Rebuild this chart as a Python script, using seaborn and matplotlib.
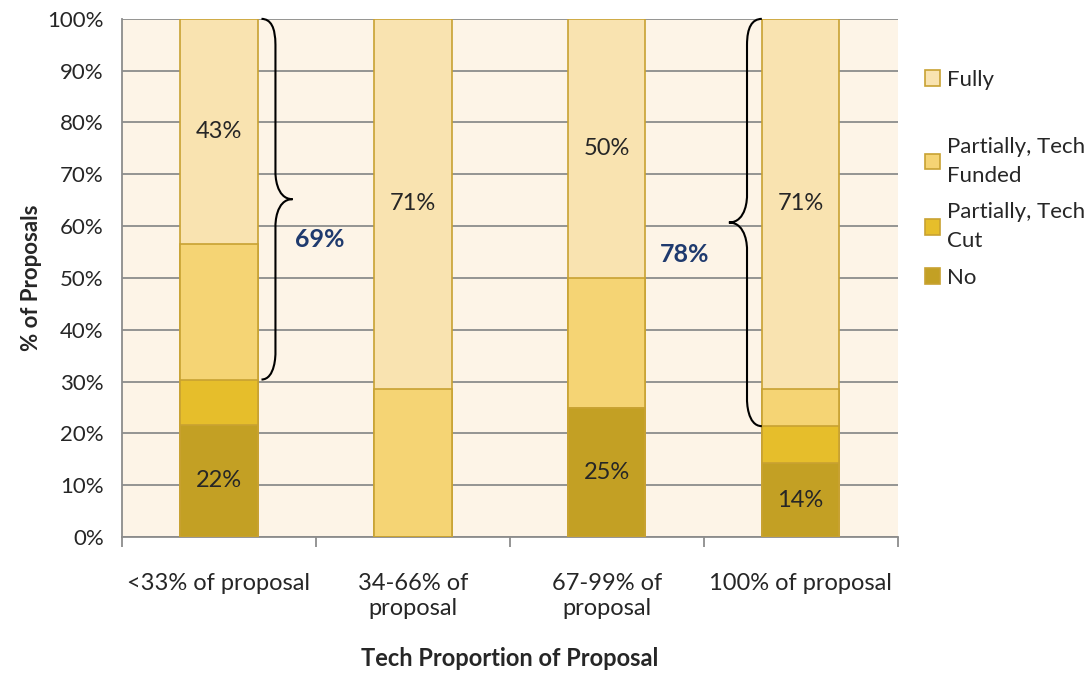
import matplotlib

matplotlib.use("Agg")

import matplotlib.pyplot as plt
import matplotlib.ticker as mtick
import numpy as np
import pandas as pd
import seaborn as sns
from matplotlib.patches import Patch, PathPatch
from matplotlib.path import Path

categories = ["<33% of proposal", "34-66% of\nproposal", "67-99% of\nproposal", "100% of proposal"]
series = ["No", "Partially, Tech Cut", "Partially, Tech Funded", "Fully"]
no_vals = [21.7, 0.0, 25.0, 14.3]
cut_vals = [8.7, 0.0, 0.0, 7.1]
funded_vals = [26.2, 28.6, 25.0, 7.2]
fully_vals = [43.4, 71.4, 50.0, 71.4]
legend_labels = ["Fully", "Partially, Tech\nFunded", "Partially, Tech\nCut", "No"]
brace_labels = ["69%", "78%"]

colors = {"No": "#C3A024", "Partially, Tech Cut": "#E6BE2B",
          "Partially, Tech Funded": "#F5D474", "Fully": "#F9E3B0"}
edge = "#C8A232"
grid_col = "#8C8C8C"

df = pd.DataFrame({"category": categories, "No": no_vals, "Partially, Tech Cut": cut_vals,
                   "Partially, Tech Funded": funded_vals, "Fully": fully_vals})
cum = df[series].cumsum(axis=1)

sns.set_theme(style="white")
plt.rcParams["font.family"] = ["Lato", "DejaVu Sans"]

fig = plt.figure(figsize=(10.88, 6.73), dpi=100)
ax = fig.add_axes([0.112, 0.202, 0.713, 0.770])
ax.set_facecolor("#FDF4E7")

# draw cumulative totals, tallest first so the lower segments sit on top
for s in reversed(series):
    sns.barplot(x=df["category"], y=cum[s], color=colors[s], width=0.4, saturation=1,
                edgecolor=edge, linewidth=1.2, ax=ax, zorder=3)

ax.set_ylim(0, 100)
ax.set_xlim(-0.5, 3.5)
ax.yaxis.set_major_locator(mtick.MultipleLocator(10))
ax.yaxis.set_major_formatter(mtick.PercentFormatter(xmax=100, decimals=0))
ax.grid(axis="y", color=grid_col, linewidth=1.3, zorder=0)
ax.set_axisbelow(True)
for sp in ["top", "right"]:
    ax.spines[sp].set_visible(False)
for sp in ["left", "bottom"]:
    ax.spines[sp].set_color(grid_col)
    ax.spines[sp].set_linewidth(1.3)

ax.set_xticks(np.arange(len(categories)))
ax.set_xticklabels(categories, fontsize=17, linespacing=1.25)
ax.set_xticks(np.arange(-0.5, 4.0, 1.0), minor=True)
ax.tick_params(axis="x", which="major", length=0, pad=26)
ax.tick_params(axis="x", which="minor", length=7, color=grid_col, width=1.3, direction="out")
ax.tick_params(axis="y", length=7, color=grid_col, width=1.3, direction="out", labelsize=16, pad=6)
ax.xaxis.set_tick_params(bottom=True, which="both")

ax.set_xlabel("Tech Proportion of Proposal", fontsize=17, fontweight="bold", labelpad=20)
ax.set_ylabel("% of Proposals", fontsize=16, fontweight="bold", labelpad=4)

# value labels for Fully and No segments
for i in range(len(categories)):
    if no_vals[i] > 0:
        ax.text(i, no_vals[i] / 2, f"{round(no_vals[i])}%", ha="center", va="center", fontsize=17, zorder=5)
    base = cum.loc[i, "Partially, Tech Funded"]
    ax.text(i, base + fully_vals[i] / 2, f"{round(fully_vals[i])}%", ha="center", va="center", fontsize=17, zorder=5)


def brace(ax, x0, x1, y0, y1):
    # curly brace from y0 to y1; ends at x0, spine at xm, tip at x1
    ym = (y0 + y1) / 2
    xm = x0 + (x1 - x0) * 0.45
    r = 5
    verts = [(x0, y1), (xm, y1), (xm, y1 - r), (xm, y1 - r),
             (xm, ym + r), (xm, ym + r), (xm, ym), (x1, ym),
             (xm, ym), (xm, ym - r), (xm, ym - r),
             (xm, y0 + r), (xm, y0 + r), (xm, y0), (x0, y0)]
    codes = [Path.MOVETO, Path.CURVE3, Path.CURVE3, Path.LINETO,
             Path.LINETO, Path.CURVE4, Path.CURVE4, Path.CURVE4,
             Path.CURVE4, Path.CURVE4, Path.CURVE4,
             Path.LINETO, Path.CURVE4, Path.CURVE4, Path.CURVE4]
    ax.add_patch(PathPatch(Path(verts, codes), fill=False, lw=1.5, color="black", zorder=6, clip_on=False))


brace(ax, 0.22, 0.38, cum.loc[0, "Partially, Tech Cut"], 100)
brace(ax, 2.80, 2.63, cum.loc[3, "Partially, Tech Cut"], 100)
ax.text(0.52, 57.5, brace_labels[0], ha="center", va="center", fontsize=18, fontweight="bold", color="#1F3A6E")
ax.text(2.40, 54.5, brace_labels[1], ha="center", va="center", fontsize=18, fontweight="bold", color="#1F3A6E")

handles = [Patch(facecolor=colors[s], edgecolor=edge, linewidth=1.2) for s in reversed(series)]
leg_kw = dict(frameon=False, fontsize=16, handlelength=0.7, handleheight=0.7, handletextpad=0.3,
              borderaxespad=0, borderpad=0)
# Fully sits apart from the other entries, as in the original legend
leg1 = ax.legend(handles[:1], legend_labels[:1], loc="center left", bbox_to_anchor=(1.035, 0.882), **leg_kw)
ax.add_artist(leg1)
leg2 = ax.legend(handles[1:], legend_labels[1:], loc="upper left", bbox_to_anchor=(1.035, 0.772),
                 labelspacing=0.75, **leg_kw)
for t in leg2.get_texts():
    t.set_linespacing(1.55)

fig.savefig("out.png", dpi=100, facecolor="white")
